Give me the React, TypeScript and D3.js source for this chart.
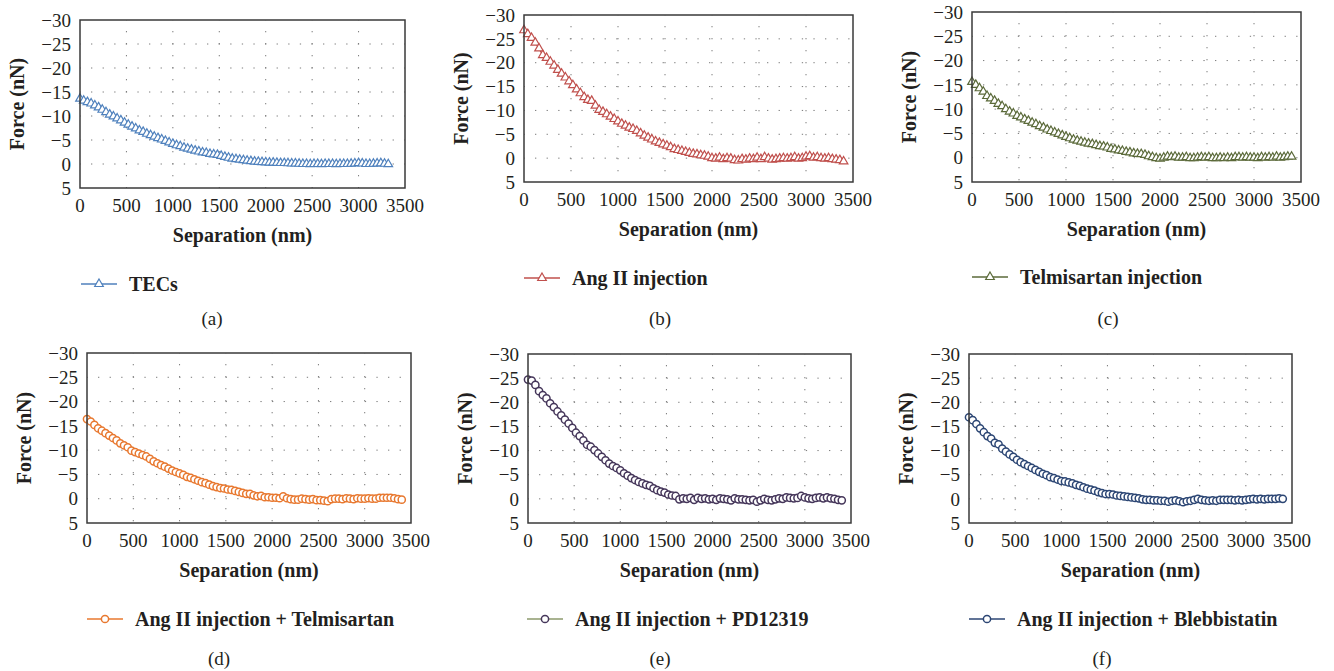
import React from "react";
import * as d3 from "d3";

// Shared sampling grid (nm)
const separation = [
  0, 40, 80, 120, 160, 200, 240, 280, 320, 360,
  400, 440, 480, 520, 560, 600, 640, 680, 720, 760,
  800, 840, 880, 920, 960, 1000, 1040, 1080, 1120, 1160,
  1200, 1240, 1280, 1320, 1360, 1400, 1440, 1480, 1520, 1560,
  1600, 1640, 1680, 1720, 1760, 1800, 1840, 1880, 1920, 1960,
  2000, 2040, 2080, 2120, 2160, 2200, 2240, 2280, 2320, 2360,
  2400, 2440, 2480, 2520, 2560, 2600, 2640, 2680, 2720, 2760,
  2800, 2840, 2880, 2920, 2960, 3000, 3040, 3080, 3120, 3160,
  3200, 3240, 3280, 3320, 3360, 3400,
];

const forceTECs = [
  -13.6, -13.2, -12.9, -12.6, -12.2, -11.8, -11.3, -10.8, -10.3, -9.9,
  -9.5, -9.1, -8.6, -8.2, -7.8, -7.4, -7.0, -6.7, -6.3, -6.0,
  -5.7, -5.4, -5.1, -4.8, -4.5, -4.2, -3.9, -3.7, -3.4, -3.2,
  -3.0, -2.8, -2.6, -2.4, -2.3, -2.1, -2.0, -1.9, -1.7, -1.5,
  -1.3, -1.1, -1.0, -0.9, -0.8, -0.7, -0.6, -0.5, -0.45, -0.4,
  -0.35, -0.3, -0.3, -0.25, -0.2, -0.2, -0.15, -0.1, -0.1, -0.05,
  0, 0, 0.05, 0, 0, 0.05, 0, 0, 0, 0.05,
  0, 0, 0, -0.05, -0.1, -0.2, -0.1, 0, 0, -0.05,
  -0.1, -0.15, -0.05, 0.05,
];

const forceAngII = [
  -26.8, -26.0, -25.2, -24.2, -23.0, -21.6, -21.0, -20.2, -19.4, -18.5,
  -17.7, -16.9, -16.1, -15.3, -14.4, -13.6, -12.8, -12.2, -12.0, -11.0,
  -10.1, -9.7, -9.2, -8.7, -8.2, -7.7, -7.2, -6.8, -6.4, -6.1,
  -5.7, -5.2, -4.7, -4.3, -3.9, -3.5, -3.2, -2.9, -2.6, -2.3,
  -1.9, -1.7, -1.5, -1.3, -1.1, -0.9, -0.8, -0.6, -0.5, -0.3,
  0.0, 0.1, -0.1, 0.2, 0.0, 0.1, 0.4, 0.5, 0.2, 0.3,
  0.1, 0.2, -0.1, 0.2, -0.2, 0.1, 0.3, 0.2, 0.1, 0.0,
  0.1, 0.0, -0.2, 0.1, 0.0, -0.3, -0.4, -0.1, -0.2, 0.0,
  0.1, 0.0, 0.2, 0.3, 0.4, 0.7,
];

const forceTelmisartan = [
  -15.6, -15.0, -14.3, -13.6, -12.7, -12.2, -11.7, -11.1, -10.6, -10.0,
  -9.5, -9.1, -8.6, -8.3, -7.9, -7.6, -7.2, -6.9, -6.5, -6.2,
  -5.8, -5.5, -5.2, -4.9, -4.6, -4.3, -4.0, -3.7, -3.5, -3.3,
  -3.1, -2.9, -2.8, -2.6, -2.4, -2.3, -2.1, -1.8, -1.7, -1.5,
  -1.4, -1.2, -1.1, -0.9, -0.8, -0.75, -0.6, -0.3, -0.1, 0.1,
  0.2, 0.0, -0.2, -0.1, -0.2, 0.0, 0.0, -0.1, 0.1, 0.1,
  0.0, -0.1, 0.0, -0.1, 0.1, 0.1, 0.0, 0.1, 0.0, 0.1,
  -0.1, -0.1, 0.0, -0.1, 0.0, 0.0, 0.1, -0.1, 0.0, -0.1,
  0.0, -0.2, 0.0, -0.1, -0.2, -0.2,
];

const forceAngTelmisartan = [
  -16.4, -15.9, -15.2, -14.5, -14.0, -13.5, -13.0, -12.5, -12.0, -11.4,
  -11.0, -10.6, -9.9, -9.6, -9.3, -9.0, -8.7, -8.2, -7.7, -7.3,
  -6.9, -6.6, -6.2, -5.8, -5.5, -5.2, -4.9, -4.5, -4.3, -4.0,
  -3.7, -3.4, -3.2, -2.9, -2.6, -2.4, -2.2, -2.1, -1.9, -1.8,
  -1.6, -1.4, -1.2, -1.0, -1.0, -0.7, -0.5, -0.6, -0.3, -0.3,
  -0.2, -0.2, -0.1, -0.5, -0.1, 0.1, 0.2, 0.2, 0.0, 0.1,
  0.2, 0.1, 0.3, 0.3, 0.4, 0.5, 0.1, 0.0, 0.0, 0.1,
  -0.1, 0.0, 0.1, -0.1, 0.0, 0.0, -0.1, 0.0, 0.0, -0.2,
  -0.2, -0.2, -0.2, -0.1, 0.1, 0.2,
];

const forceAngPD = [
  -24.7, -24.5, -23.6, -22.3, -21.5, -20.8, -19.8, -19.0, -18.1, -17.3,
  -16.4, -15.6, -14.7, -13.7, -13.0, -12.1, -11.2, -10.8, -10.1, -9.4,
  -8.7, -8.0, -7.3, -6.8, -6.4, -5.9, -5.3, -4.8, -4.3, -3.9,
  -3.5, -3.2, -2.9, -2.7, -2.2, -1.8, -1.5, -1.3, -0.9, -0.7,
  -0.6, 0.1, -0.1, 0.0, -0.2, 0.2, -0.2, 0.0, -0.1, 0.1,
  0.0, 0.2, -0.1, 0.0, 0.1, 0.3, -0.1, 0.1, 0.1, 0.2,
  0.3, 0.2, 0.6, 0.3, 0.0, 0.2, 0.3, 0.1, -0.1, 0.0,
  -0.3, -0.2, -0.1, -0.2, -0.6, -0.3, -0.1, 0.0, -0.2, -0.3,
  -0.1, -0.3, -0.1, 0.0, 0.2, 0.3,
];

const forceAngBlebbistatin = [
  -16.9, -16.3, -15.5, -14.6, -13.8, -13.0, -12.5, -11.6, -11.3, -10.4,
  -9.8, -9.2, -8.7, -8.1, -7.6, -7.2, -6.8, -6.4, -6.0, -5.6,
  -5.2, -4.9, -4.5, -4.3, -4.0, -3.7, -3.6, -3.4, -3.2, -2.9,
  -2.7, -2.4, -2.1, -1.9, -1.7, -1.4, -1.2, -1.0, -1.0, -0.9,
  -0.7, -0.6, -0.5, -0.4, -0.3, -0.2, -0.1, 0.1, 0.2, 0.2,
  0.3, 0.3, 0.4, 0.4, 0.6, 0.4, 0.3, 0.5, 0.7, 0.5,
  0.4, 0.2, 0.0, 0.2, 0.3, 0.4, 0.3, 0.4, 0.2, 0.2,
  0.2, 0.2, 0.3, 0.2, 0.3, 0.2, 0.1, 0.0, 0.1, 0.0,
  0.1, 0.0, 0.0, 0.0, -0.1, 0.0,
];

const seriesNames = [
  "TECs",
  "Ang II injection",
  "Telmisartan injection",
  "Ang II injection + Telmisartan",
  "Ang II injection + PD12319",
  "Ang II injection + Blebbistatin",
];
const captions = ["(a)", "(b)", "(c)", "(d)", "(e)", "(f)"];
const seriesValues = [
  forceTECs,
  forceAngII,
  forceTelmisartan,
  forceAngTelmisartan,
  forceAngPD,
  forceAngBlebbistatin,
];

const xTitle = "Separation (nm)";
const yTitle = "Force (nN)";

// layout / style (not data)
const panels = [
  { x0: 80, x1: 405, y0: 20, y1: 188, legY: 284, legX: 81, capX: 212, capY: 325, color: "#4f81bd", line: "#4f81bd", marker: "tri" },
  { x0: 524, x1: 853, y0: 15, y1: 182, legY: 278, legX: 524, capX: 660, capY: 325, color: "#c0504d", line: "#c0504d", marker: "tri" },
  { x0: 972, x1: 1301, y0: 12, y1: 182, legY: 277, legX: 972, capX: 1108, capY: 325, color: "#5b6a3a", line: "#5b6a3a", marker: "tri" },
  { x0: 87, x1: 411, y0: 353, y1: 523, legY: 619, legX: 87, capX: 219, capY: 665, color: "#e8782f", line: "#e8782f", marker: "circ" },
  { x0: 528, x1: 851, y0: 354, y1: 523, legY: 619, legX: 527, capX: 660, capY: 665, color: "#45365a", line: "#8c9a6c", marker: "circ" },
  { x0: 969, x1: 1292, y0: 354, y1: 523, legY: 619, legX: 969, capX: 1102, capY: 665, color: "#2c4674", line: "#2c4674", marker: "circ" },
];

const FONT = "'Liberation Serif', 'Times New Roman', serif";
const triPath = d3.symbol(d3.symbolTriangle, 32)() as string;

function Marker({ kind, x, y, color }: { kind: string; x: number; y: number; color: string }) {
  if (kind === "tri") {
    return <path d={triPath} transform={`translate(${x},${y})`} fill="white" stroke={color} strokeWidth={1.2} />;
  }
  return <circle cx={x} cy={y} r={3.6} fill="white" stroke={color} strokeWidth={1.5} />;
}

function Panel({ idx }: { idx: number }) {
  const p = panels[idx];
  const values = seriesValues[idx];
  const x = d3.scaleLinear().domain([0, 3500]).range([p.x0, p.x1]);
  const y = d3.scaleLinear().domain([-30, 5]).range([p.y0, p.y1]);
  const fmt = d3.format("d");
  const xt = x.ticks(7);
  const yt = y.ticks(7);
  const pts = values.map((v, i) => [separation[i], v] as [number, number]);
  const line = d3
    .line<[number, number]>()
    .x((d) => x(d[0]))
    .y((d) => y(d[1]))(pts) as string;
  return (
    <g>
      <rect x={p.x0} y={p.y0} width={p.x1 - p.x0} height={p.y1 - p.y0} fill="white" />
      {yt
        .filter((t) => t > -30 && t < 5)
        .map((t) => (
          <line key={"h" + t} x1={p.x0} x2={p.x1} y1={y(t)} y2={y(t)} stroke="#7a7a7a" strokeWidth={1} strokeDasharray="1.3 10.3" strokeDashoffset={-11} />
        ))}
      {xt
        .filter((t) => t > 0 && t < 3500)
        .map((t) => (
          <line key={"v" + t} x1={x(t)} x2={x(t)} y1={p.y0} y2={p.y1} stroke="#7a7a7a" strokeWidth={1} strokeDasharray="1.3 10.7" strokeDashoffset={-11} />
        ))}
      <path d={line} fill="none" stroke={p.line} strokeWidth={1.5} />
      {pts.map((d, i) => (
        <Marker key={i} kind={p.marker} x={x(d[0])} y={y(d[1])} color={p.color} />
      ))}
      <rect x={p.x0} y={p.y0} width={p.x1 - p.x0} height={p.y1 - p.y0} fill="none" stroke="#3a3a3a" strokeWidth={1.5} />
      {yt.map((t) => (
        <text key={"yl" + t} x={p.x0 - 9} y={y(t)} dy="0.35em" textAnchor="end" fontFamily={FONT} fontSize={19} fill="#231f20">
          {fmt(t)}
        </text>
      ))}
      {xt.map((t) => (
        <text key={"xl" + t} x={x(t)} y={p.y1 + 24} textAnchor="middle" fontFamily={FONT} fontSize={19} fill="#231f20">
          {fmt(t)}
        </text>
      ))}
      <text x={(p.x0 + p.x1) / 2} y={p.y1 + 54} textAnchor="middle" fontFamily={FONT} fontSize={20} fontWeight="bold" fill="#231f20">
        {xTitle}
      </text>
      <text
        transform={`translate(${p.x0 - 56},${(p.y0 + p.y1) / 2}) rotate(-90)`}
        textAnchor="middle"
        fontFamily={FONT}
        fontSize={20}
        fontWeight="bold"
        fill="#231f20"
      >
        {yTitle}
      </text>
      <line x1={p.legX} x2={p.legX + 36} y1={p.legY} y2={p.legY} stroke={p.line} strokeWidth={1.5} />
      <Marker kind={p.marker} x={p.legX + 18} y={p.legY} color={p.color} />
      <text x={p.legX + 48} y={p.legY + 7} fontFamily={FONT} fontSize={20} fontWeight="bold" fill="#231f20">
        {seriesNames[idx]}
      </text>
      <text x={p.capX} y={p.capY} textAnchor="middle" fontFamily={FONT} fontSize={19} fill="#231f20">
        {captions[idx]}
      </text>
    </g>
  );
}

export default function App() {
  return (
    <svg
      width={1334}
      height={671}
      viewBox="0 0 1334 671"
      style={{ position: "absolute", left: 0, top: 0, background: "white" }}
    >
      <rect x={0} y={0} width={1334} height={671} fill="white" />
      {panels.map((_, i) => (
        <Panel key={i} idx={i} />
      ))}
    </svg>
  );
}
